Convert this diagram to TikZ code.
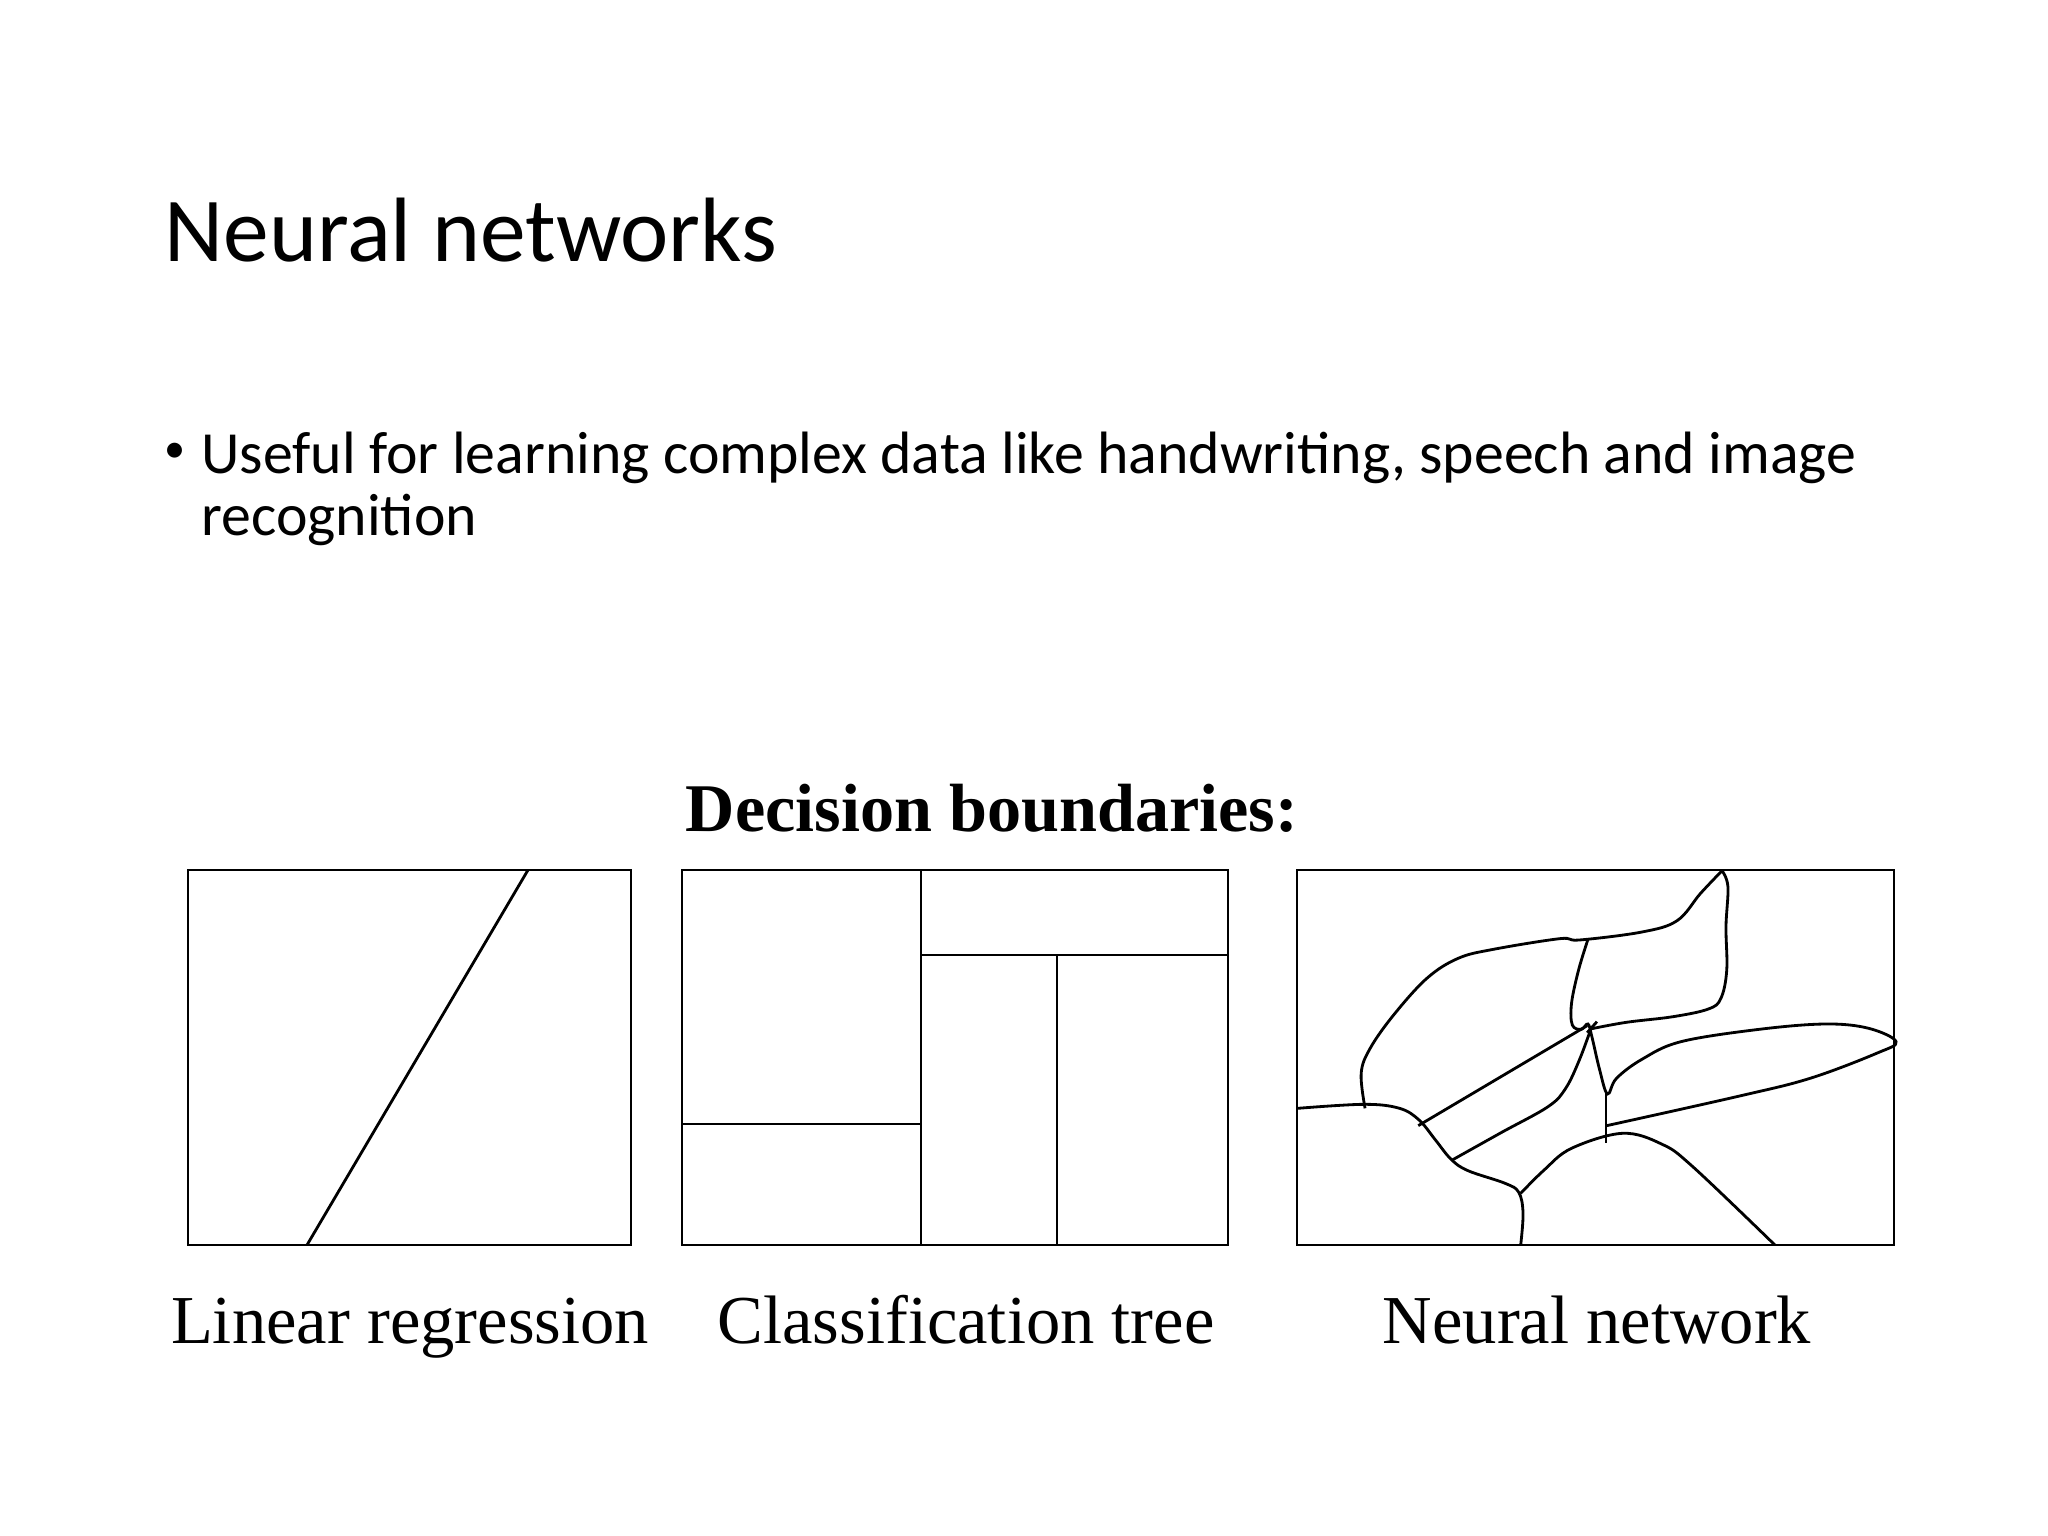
\documentclass[tikz,border=0pt]{standalone}
\usepackage{fontspec}
\setmainfont{Liberation Serif}
\newfontfamily\slidefont{Carlito}
\begin{document}
\begin{tikzpicture}[x=0.01cm, y=-0.01cm, line width=0.8pt,
    box/.style={draw, line width=0.8pt},
    label/.style={anchor=base, font=\fontsize{19.5}{24}\selectfont},
    bodytext/.style={anchor=base west, inner sep=0, font=\slidefont\fontsize{17}{21}\selectfont}]
  \useasboundingbox (0,0) rectangle (2048,1536);

  % Slide text
  \node[anchor=base west, inner sep=0, font=\slidefont\fontsize{26}{30}\selectfont] (title) at (163,261) {Neural networks};
  \node[bodytext, font=\slidefont\fontsize{12}{14}\selectfont] (bullet) at (163,462) {\textbullet};
  \node[bodytext] (line1) at (200,473) {Useful for learning complex data like handwriting, speech and image};
  \node[bodytext] (line2) at (200,535) {recognition};

  \node[label, font=\bfseries\fontsize{19.4}{24}\selectfont] (heading) at (992,831) {Decision boundaries:};

  % Linear regression
  \draw[box] (188,870) rectangle (631,1245);
  \draw (307,1245) -- (528,870);
  \node[label] (lr) at (410,1343) {Linear regression};

  % Classification tree
  \draw[box] (682,870) rectangle (1228,1245);
  \draw (921,870) -- (921,1245);
  \draw (921,955) -- (1228,955);
  \draw (1057,955) -- (1057,1245);
  \draw (682,1124) -- (921,1124);
  \node[label] (ct) at (966,1343) {Classification tree};

  % Neural network
  \draw[box] (1297,870) rectangle (1894,1245);
  \begin{scope}[shift={(1290,860)}, xscale=0.391, yscale=0.3333]
    \draw plot[smooth, tension=0.6] coordinates {(192,745) (182,640) (205,565) (265,465) (350,355) (430,295) (520,268) (690,236) (740,240) (900,216) (990,182) (1050,100) (1105,32)};
    \draw plot[smooth, tension=0.6] coordinates {(1105,32) (1120,80) (1115,200) (1117,330) (1102,415) (1070,447) (980,470) (860,487) (768,507)};
    \draw plot[smooth, tension=0.6] coordinates {(762,238) (738,330) (720,430) (722,495) (745,508) (762,492) (772,530) (792,630) (812,702) (835,655) (900,598) (1000,545) (1200,508) (1370,492) (1480,505) (1550,545) (1500,580) (1330,655) (1150,708) (810,797)};
    \draw (785,485) -- (760,518);
    \draw (328,797) -- (760,497);
    \draw plot[smooth, tension=0.6] coordinates {(415,900) (540,818) (660,740) (705,685) (740,600) (770,505)};
    \draw (808,700) -- (808,850);
    \draw plot[smooth, tension=0.6] coordinates {(20,745) (190,733) (280,745) (330,780) (372,840) (412,898) (455,932) (550,970) (585,997) (596,1060) (590,1155)};
    \draw plot[smooth, tension=0.6] coordinates {(590,1000) (650,930) (720,865) (850,820) (950,852) (1030,920) (1240,1155)};
  \end{scope}
  \node[label] (nn) at (1597,1343) {Neural network};
\end{tikzpicture}
\end{document}
